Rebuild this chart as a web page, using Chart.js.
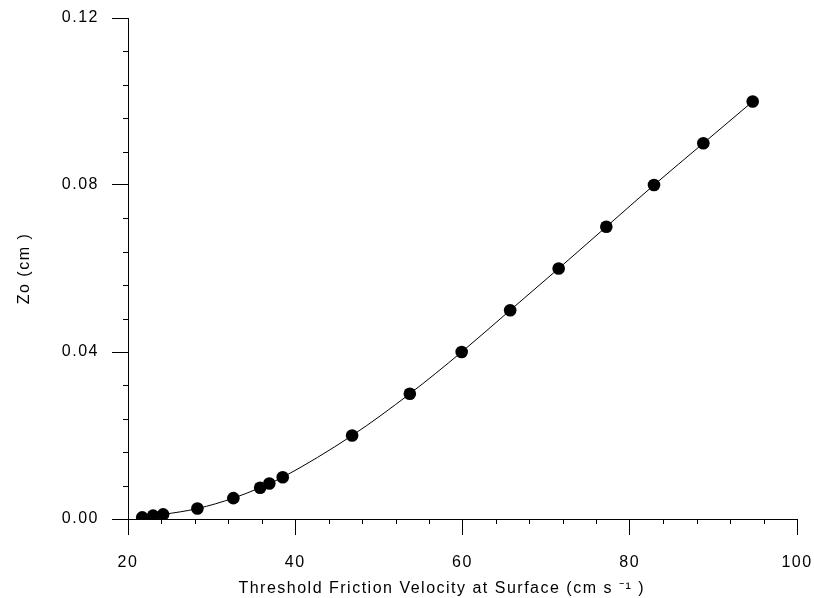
<!DOCTYPE html>
<html>
<head>
<meta charset="utf-8">
<script src="https://cdn.jsdelivr.net/npm/chart.js@4/dist/chart.umd.min.js"></script>
<style>
  html, body { margin: 0; padding: 0; background: #fff; }
  #wrap { width: 814px; height: 598px; }
</style>
</head>
<body>
<div id="wrap"><canvas id="zoChart"></canvas></div>
<script>
// threshold friction velocity (cm/s) and roughness length Zo (cm)
const velocity = [21.7, 23.0, 24.2, 28.3, 32.6, 35.8, 36.9, 38.5, 46.8, 53.7, 59.9, 65.7, 71.5, 77.2, 82.9, 88.8, 94.7];
const zo = [0.0004, 0.0008, 0.0011, 0.0025, 0.005, 0.0075, 0.0085, 0.010, 0.020, 0.030, 0.040, 0.050, 0.060, 0.070, 0.080, 0.090, 0.100];

// major ticks get labels, minor ticks are short marks only
const xMajor = [20, 40, 60, 80, 100];
const xMinor = [24, 28, 32, 36, 44, 48, 52, 56, 64, 68, 72, 76, 84, 88, 92, 96];
const yMajor = [0, 0.04, 0.08, 0.12];
const yMinor = [0.008, 0.016, 0.024, 0.032, 0.048, 0.056, 0.064, 0.072, 0.088, 0.096, 0.104, 0.112];

const points = velocity.map((v, i) => ({ x: v, y: zo[i] }));
const FONT = "'Liberation Sans', Arial, sans-serif";

// short minor tick marks, placed through the scales
const minorTicks = {
    id: 'minorTicks',
    beforeDraw(chart) {
        chart.ctx.letterSpacing = '1.5px';
    },
    afterDraw(chart) {
        const ctx = chart.ctx;
        const area = chart.chartArea;
        const xs = chart.scales.x;
        const ys = chart.scales.y;
        ctx.save();
        ctx.strokeStyle = '#000';
        ctx.lineWidth = 1;
        ctx.beginPath();
        xMinor.forEach(v => {
            const px = Math.round(xs.getPixelForValue(v)) + 0.5;
            ctx.moveTo(px, area.bottom);
            ctx.lineTo(px, area.bottom + 5);
        });
        yMinor.forEach(v => {
            const py = Math.round(ys.getPixelForValue(v)) + 0.5;
            ctx.moveTo(area.left - 5, py);
            ctx.lineTo(area.left, py);
        });
        ctx.stroke();
        ctx.restore();
    }
};

const ctx = document.getElementById('zoChart').getContext('2d');
new Chart(ctx, {
    type: 'scatter',
    data: {
        datasets: [{
            data: points,
            showLine: true,
            borderColor: '#000',
            borderWidth: 1,
            backgroundColor: '#000',
            pointRadius: 6.3,
            pointBorderWidth: 0,
            cubicInterpolationMode: 'monotone'
        }]
    },
    options: {
        responsive: true,
        maintainAspectRatio: false,
        animation: false,
        layout: {
            padding: { top: 18, right: 17, left: 0, bottom: 0 }
        },
        plugins: {
            legend: { display: false },
            tooltip: { enabled: false }
        },
        scales: {
            x: {
                type: 'linear',
                min: 20,
                max: 100,
                afterFit: scale => {
                    scale.height = 79;
                    scale.paddingLeft = 0;
                    scale.paddingRight = 0;
                },
                afterBuildTicks: scale => { scale.ticks = xMajor.map(v => ({ value: v })); },
                border: { display: true, color: '#000', width: 1 },
                grid: {
                    drawOnChartArea: false,
                    drawTicks: true,
                    tickLength: 16,
                    tickColor: '#000'
                },
                ticks: {
                    color: '#000',
                    padding: 18,
                    maxRotation: 0,
                    font: { family: FONT, size: 16 },
                    callback: v => String(v)
                },
                title: {
                    display: true,
                    text: 'Threshold Friction Velocity at Surface (cm s \u207B\u00B9 )\u00A0\u00A0\u00A0\u00A0\u00A0\u00A0\u00A0',
                    color: '#000',
                    padding: { top: 0, bottom: 0 },
                    font: { family: FONT, size: 16 }
                }
            },
            y: {
                type: 'linear',
                min: 0,
                max: 0.12,
                afterFit: scale => {
                    scale.width = 128;
                    scale.paddingTop = 0;
                    scale.paddingBottom = 0;
                },
                afterBuildTicks: scale => { scale.ticks = yMajor.map(v => ({ value: v })); },
                border: { display: true, color: '#000', width: 1 },
                grid: {
                    drawOnChartArea: false,
                    drawTicks: true,
                    tickLength: 16,
                    tickColor: '#000'
                },
                ticks: {
                    color: '#000',
                    padding: 13,
                    font: { family: FONT, size: 16 },
                    callback: v => Number(v).toFixed(2)
                },
                title: {
                    display: true,
                    text: 'Zo (cm )',
                    color: '#000',
                    padding: { top: 15, bottom: 0 },
                    font: { family: FONT, size: 16 }
                }
            }
        }
    },
    plugins: [minorTicks]
});
</script>
</body>
</html>
